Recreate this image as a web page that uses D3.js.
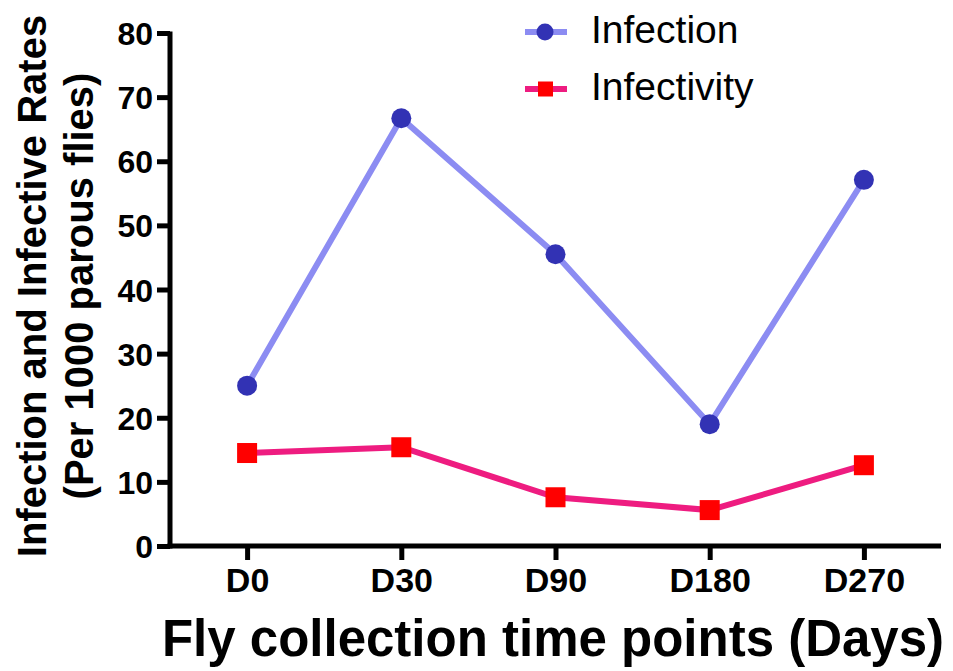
<!DOCTYPE html>
<html>
<head>
<meta charset="utf-8">
<script src="https://cdn.jsdelivr.net/npm/d3@7"></script>
<style>
  body { margin: 0; background: #fff; }
  text { font-family: "Liberation Sans", Arial, sans-serif; fill: #000; }
</style>
</head>
<body>
<svg width="953" height="671"></svg>
<script>
var categories = ["D0", "D30", "D90", "D180", "D270"];
var infection = [25, 66.7, 45.5, 19, 57.1];
var infectivity = [14.5, 15.4, 7.6, 5.6, 12.6];
var yTicks = [0, 10, 20, 30, 40, 50, 60, 70, 80];

var svg = d3.select("svg");

var x = d3.scalePoint().domain(categories).range([170, 941]).padding(0.5);
var y = d3.scaleLinear().domain([0, 80]).range([546, 33]);

// axes
var yAxis = svg.append("g")
  .attr("transform", "translate(170,0)")
  .call(d3.axisLeft(y).tickValues(yTicks).tickSize(13).tickPadding(4));
yAxis.select(".domain").attr("d", "M0," + (y(80) - 1.5) + "V" + (y(0) + 2.5));
yAxis.selectAll("line, path").attr("stroke", "#000").attr("stroke-width", 5);
yAxis.selectAll("text").style("font-size", "32px").style("font-weight", "bold")
  .attr("dy", "0.36em");

var xAxis = svg.append("g")
  .attr("transform", "translate(0,546)")
  .call(d3.axisBottom(x).tickSize(14));
xAxis.select(".domain").attr("d", "M167.5,0H941");
xAxis.selectAll("line, path").attr("stroke", "#000").attr("stroke-width", 5);
xAxis.selectAll("text").style("font-size", "34px").style("font-weight", "bold")
  .attr("y", 46).attr("dy", 0);

// titles
svg.append("text")
  .attr("x", 553).attr("y", 656)
  .attr("text-anchor", "middle")
  .style("font-size", "51px").style("font-weight", "bold")
  .text("Fly collection time points (Days)");

var yt = svg.append("text")
  .attr("transform", "translate(0,286) rotate(-90)")
  .attr("text-anchor", "middle")
  .style("font-size", "40px").style("font-weight", "bold");
yt.append("tspan").attr("x", 0).attr("y", 46).text("Infection and Infective Rates");
yt.append("tspan").attr("x", 0).attr("y", 93).text("(Per 1000 parous flies)");

// lines
var line = d3.line().x(function(d, i) { return x(categories[i]); }).y(function(d) { return y(d); });

svg.append("path").datum(infection)
  .attr("d", line).attr("fill", "none")
  .attr("stroke", "#8c8cf2").attr("stroke-width", 6);
svg.append("path").datum(infectivity)
  .attr("d", line).attr("fill", "none")
  .attr("stroke", "#ee1c80").attr("stroke-width", 6);

svg.selectAll("circle.inf").data(infection).enter().append("circle")
  .attr("class", "inf")
  .attr("cx", function(d, i) { return x(categories[i]); })
  .attr("cy", function(d) { return y(d); })
  .attr("r", 10)
  .attr("fill", "#3232b4");

svg.selectAll("rect.infv").data(infectivity).enter().append("rect")
  .attr("class", "infv")
  .attr("x", function(d, i) { return x(categories[i]) - 10; })
  .attr("y", function(d) { return y(d) - 10; })
  .attr("width", 20).attr("height", 20)
  .attr("fill", "#ff0000");

// legend
var legend = [
  { name: "Infection", line: "#8c8cf2", y: 32 },
  { name: "Infectivity", line: "#ee1c80", y: 89 }
];
legend.forEach(function(l, i) {
  svg.append("line").attr("x1", 525).attr("x2", 567).attr("y1", l.y).attr("y2", l.y)
    .attr("stroke", l.line).attr("stroke-width", 6);
  if (i == 0) {
    svg.append("circle").attr("cx", 545).attr("cy", l.y).attr("r", 8.5).attr("fill", "#3232b4");
  } else {
    svg.append("rect").attr("x", 538).attr("y", l.y - 7.5).attr("width", 15).attr("height", 15).attr("fill", "#ff0000");
  }
  svg.append("text").attr("x", 591).attr("y", l.y + 11)
    .style("font-size", "39px").text(l.name);
});
</script>
</body>
</html>
